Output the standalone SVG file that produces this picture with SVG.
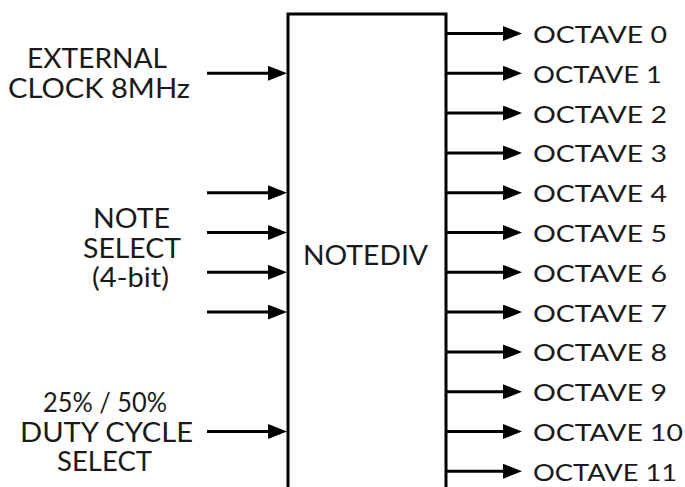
<svg xmlns="http://www.w3.org/2000/svg" width="685" height="487" viewBox="0 0 685 487">
<style>
.lbl{font-family:Lato,"Liberation Sans",sans-serif;font-size:26px;fill:#1a1a1a}
.oct{font-family:Lato,"Liberation Sans",sans-serif;font-size:24px;fill:#1a1a1a}
.ln{stroke:#000;stroke-width:3;fill:none}
</style>
<defs>
<marker id="ah" viewBox="0 0 19 15" refX="9" refY="7.5" markerWidth="19" markerHeight="15" markerUnits="userSpaceOnUse" orient="auto">
<path d="M0,0 L19,7.5 L0,15 z" fill="#000"/>
</marker>
</defs>
<rect width="685" height="487" fill="#fff"/>
<g id="notediv">
<rect x="288" y="14" width="158" height="500" fill="#fff" stroke="#000" stroke-width="3"/>
<text class="lbl" x="303" y="265" textLength="125" lengthAdjust="spacingAndGlyphs">NOTEDIV</text>
</g>
<g id="in-clock">
<text class="lbl" x="27" y="68" textLength="140" lengthAdjust="spacingAndGlyphs">EXTERNAL</text>
<text class="lbl" x="8" y="98" textLength="182" lengthAdjust="spacingAndGlyphs">CLOCK 8MHz</text>
</g>
<g id="in-note">
<text class="lbl" x="93" y="228" textLength="77" lengthAdjust="spacingAndGlyphs">NOTE</text>
<text class="lbl" x="83" y="258" textLength="98" lengthAdjust="spacingAndGlyphs">SELECT</text>
<text class="lbl" x="92" y="287" textLength="77" lengthAdjust="spacingAndGlyphs">(4-bit)</text>
</g>
<g id="in-duty">
<text class="lbl" x="43" y="412" textLength="124" lengthAdjust="spacingAndGlyphs">25% / 50%</text>
<text class="lbl" x="20" y="442" textLength="173" lengthAdjust="spacingAndGlyphs">DUTY CYCLE</text>
<text class="lbl" x="57" y="471" textLength="95" lengthAdjust="spacingAndGlyphs">SELECT</text>
</g>
<g id="outputs">
<text class="oct" x="533" y="43" textLength="134" lengthAdjust="spacingAndGlyphs">OCTAVE 0</text>
<text class="oct" x="533" y="82.8" textLength="129" lengthAdjust="spacingAndGlyphs">OCTAVE 1</text>
<text class="oct" x="533" y="122.6" textLength="134" lengthAdjust="spacingAndGlyphs">OCTAVE 2</text>
<text class="oct" x="533" y="162.4" textLength="134" lengthAdjust="spacingAndGlyphs">OCTAVE 3</text>
<text class="oct" x="533" y="202.2" textLength="134" lengthAdjust="spacingAndGlyphs">OCTAVE 4</text>
<text class="oct" x="533" y="242" textLength="134" lengthAdjust="spacingAndGlyphs">OCTAVE 5</text>
<text class="oct" x="533" y="281.8" textLength="134" lengthAdjust="spacingAndGlyphs">OCTAVE 6</text>
<text class="oct" x="533" y="321.6" textLength="134" lengthAdjust="spacingAndGlyphs">OCTAVE 7</text>
<text class="oct" x="533" y="361.4" textLength="134" lengthAdjust="spacingAndGlyphs">OCTAVE 8</text>
<text class="oct" x="533" y="401.2" textLength="134" lengthAdjust="spacingAndGlyphs">OCTAVE 9</text>
<text class="oct" x="533" y="441" textLength="150" lengthAdjust="spacingAndGlyphs">OCTAVE 10</text>
<text class="oct" x="533" y="480.8" textLength="144" lengthAdjust="spacingAndGlyphs">OCTAVE 11</text>
</g>
<g id="connectors" class="ln" marker-end="url(#ah)">
<line x1="207" y1="73.3" x2="277" y2="73.3"/>
<line x1="207" y1="192.7" x2="277" y2="192.7"/>
<line x1="207" y1="232.5" x2="277" y2="232.5"/>
<line x1="207" y1="272.3" x2="277" y2="272.3"/>
<line x1="207" y1="312.1" x2="277" y2="312.1"/>
<line x1="207" y1="431.5" x2="277" y2="431.5"/>
<line x1="447" y1="33.5" x2="512" y2="33.5"/>
<line x1="447" y1="73.3" x2="512" y2="73.3"/>
<line x1="447" y1="113.1" x2="512" y2="113.1"/>
<line x1="447" y1="152.9" x2="512" y2="152.9"/>
<line x1="447" y1="192.7" x2="512" y2="192.7"/>
<line x1="447" y1="232.5" x2="512" y2="232.5"/>
<line x1="447" y1="272.3" x2="512" y2="272.3"/>
<line x1="447" y1="312.1" x2="512" y2="312.1"/>
<line x1="447" y1="351.9" x2="512" y2="351.9"/>
<line x1="447" y1="391.7" x2="512" y2="391.7"/>
<line x1="447" y1="431.5" x2="512" y2="431.5"/>
<line x1="447" y1="471.3" x2="512" y2="471.3"/>
</g>
</svg>
